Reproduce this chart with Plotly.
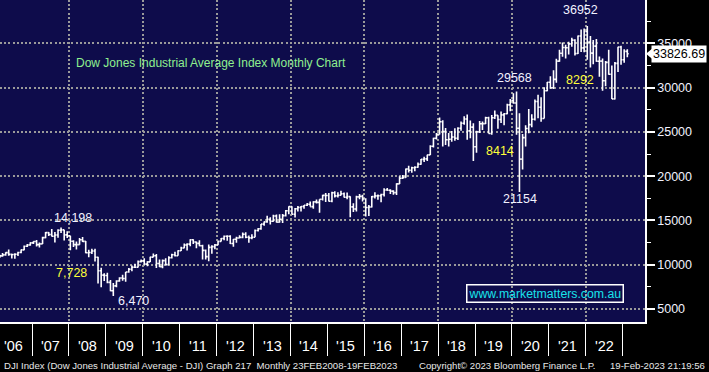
import plotly.graph_objects as go
import pandas as pd

# ---------------- data (monthly DJIA, Feb 2006 .. Feb 2023) ----------------
months = pd.date_range("2006-02-01", "2023-02-01", freq="MS") + pd.Timedelta(days=14)

opens = [
    10865, 10993, 11109, 11367, 11168, 11150, 11186, 11381, 11679, 12081, 12222,
    12463, 12622, 12269, 12354, 13063, 13628, 13409, 13212, 13358, 13896, 13930, 13372,
    13265, 12650, 12266, 12263, 12820, 12638, 11350, 11378, 11544, 10851, 9325, 8829,
    8776, 8001, 7063, 7609, 8168, 8500, 8447, 9172, 9496, 9712, 9713, 10345,
    10428, 10067, 10325, 10857, 11009, 10137, 9774, 10466, 10015, 10788, 11118, 11006,
    11578, 11892, 12226, 12320, 12811, 12570, 12414, 12143, 11614, 10913, 11955, 12046,
    12218, 12633, 12952, 13212, 13214, 12393, 12880, 13009, 13091, 13437, 13096, 13026,
    13104, 13861, 14054, 14579, 14840, 15116, 14910, 15500, 14810, 15130, 15546, 16086,
    16577, 15699, 16322, 16458, 16581, 16717, 16827, 16563, 17098, 17043, 17391, 17828,
    17823, 17165, 18133, 17776, 17841, 18011, 17620, 17690, 16528, 16285, 17664, 17720,
    17425, 16466, 16517, 17685, 17774, 17787, 17930, 18432, 18401, 18308, 18142, 19124,
    19763, 19864, 20812, 20663, 20941, 21009, 21350, 21891, 21948, 22405, 23377, 24272,
    24719, 26149, 25029, 24103, 24163, 24416, 24271, 25415, 25965, 26458, 25116, 25538,
    23327, 24999, 25916, 25929, 26593, 24815, 26600, 26864, 26403, 26917, 27046, 28051,
    28538, 28256, 25409, 21917, 24346, 25383, 25813, 26428, 28430, 27782, 26502, 29639,
    30606, 29983, 30932, 32982, 33875, 34529, 34503, 34935, 35361, 33844, 35820, 34484,
    36338, 35132, 33893, 34678, 32977, 32990, 30775, 32845, 31510, 28726, 32733, 34590,
    33147, 34086,
]
highs = [
    11137, 11334, 11420, 11710, 11250, 11300, 11450, 11720, 12160, 12340, 12530,
    12650, 12790, 12500, 13160, 13690, 13700, 14020, 13700, 14000, 14198, 13950, 13780,
    13280, 12770, 12620, 13010, 13140, 12670, 11680, 11790, 11790, 10890, 9650, 9030,
    9090, 8280, 7930, 8260, 8580, 8880, 9190, 9630, 9920, 10120, 10470, 10580,
    10730, 10400, 10900, 11260, 11210, 10600, 10600, 10720, 10950, 11250, 11450, 11630,
    12020, 12390, 12420, 12880, 12880, 12630, 12750, 12250, 11720, 12280, 12200, 12330,
    12720, 13020, 13290, 13340, 13340, 12900, 13150, 13330, 13650, 13660, 13290, 13450,
    13970, 14150, 14590, 14890, 15540, 15350, 15640, 15660, 15710, 15720, 16170, 16590,
    16590, 16400, 16630, 16630, 16740, 16980, 17150, 17160, 17350, 17400, 17890, 18100,
    18100, 18250, 18290, 18180, 18350, 18150, 18140, 17720, 16930, 17800, 17980, 17890,
    17500, 16740, 17760, 18170, 17940, 18020, 18620, 18670, 18510, 18400, 19200, 19990,
    20130, 20850, 21170, 21070, 21110, 21530, 21930, 22180, 22420, 23490, 24330, 24880,
    26620, 26310, 25450, 24860, 25090, 25400, 25520, 26170, 26770, 26950, 26280, 25980,
    25130, 26240, 26160, 26700, 26700, 26910, 27400, 26890, 27310, 27120, 28170, 28700,
    29370, 29570, 27100, 24760, 25760, 27580, 27000, 28650, 29200, 28900, 30030, 30640,
    31270, 31960, 33260, 34260, 35090, 34850, 35170, 35630, 35470, 35890, 36570, 36680,
    36952, 35820, 35370, 35490, 33510, 33270, 33000, 34280, 32500, 32880, 34600, 34710,
    34340, 34330,
]
lows = [
    10750, 10900, 11000, 11000, 10700, 10660, 10990, 11300, 11640, 12000, 12140,
    12340, 12050, 11940, 12350, 12990, 13250, 13180, 12520, 13050, 13580, 12740, 13020,
    11630, 12000, 11730, 12250, 12570, 11290, 10830, 11210, 10370, 7883, 7450, 8150,
    7910, 7000, 6470, 7450, 8090, 8190, 8090, 9100, 9250, 9670, 9680, 10240,
    10020, 9840, 10320, 10850, 9620, 9740, 9610, 9940, 9990, 10710, 10930, 11000,
    11550, 11860, 11610, 12080, 12330, 11860, 12090, 10600, 10600, 10400, 11230, 11740,
    12200, 12620, 12750, 12710, 12350, 12040, 12490, 12990, 13000, 13000, 12470, 12880,
    13100, 13740, 13940, 14400, 14750, 14550, 14860, 14760, 14780, 14720, 15440, 15700,
    15690, 15340, 16000, 16020, 16330, 16640, 16560, 16330, 16900, 15860, 17250, 17070,
    17130, 17040, 17580, 17600, 17820, 17600, 17400, 15370, 15940, 16010, 17380, 17140,
    15450, 15500, 16450, 17480, 17330, 17060, 17710, 18360, 17990, 17890, 17880, 19120,
    19680, 19830, 20410, 20380, 20550, 20960, 21280, 21600, 21710, 22400, 23240, 24140,
    24700, 23360, 23510, 23340, 23880, 23990, 24080, 25120, 25790, 24120, 24270, 21710,
    22640, 24880, 25210, 25900, 24810, 24680, 26460, 25340, 26000, 25740, 27000, 27330,
    28170, 24680, 18210, 20740, 23360, 24840, 25520, 26280, 26540, 26140, 26500, 29600,
    29860, 29850, 30550, 32930, 33470, 33270, 33740, 34600, 33610, 33790, 34010, 34000,
    33150, 32270, 32630, 32930, 31230, 29650, 30140, 31440, 28720, 28660, 31750, 32570,
    32810, 33430,
]
closes = [
    10993, 11109, 11367, 11168, 11150, 11186, 11381, 11679, 12081, 12222, 12463,
    12622, 12269, 12354, 13063, 13628, 13409, 13212, 13358, 13896, 13930, 13372, 13265,
    12650, 12266, 12263, 12820, 12638, 11350, 11378, 11544, 10851, 9325, 8829, 8776,
    8001, 7063, 7609, 8168, 8500, 8447, 9172, 9496, 9712, 9713, 10345, 10428,
    10067, 10325, 10857, 11009, 10137, 9774, 10466, 10015, 10788, 11118, 11006, 11578,
    11892, 12226, 12320, 12811, 12570, 12414, 12143, 11614, 10913, 11955, 12046, 12218,
    12633, 12952, 13212, 13214, 12393, 12880, 13009, 13091, 13437, 13096, 13026, 13104,
    13861, 14054, 14579, 14840, 15116, 14910, 15500, 14810, 15130, 15546, 16086, 16577,
    15699, 16322, 16458, 16581, 16717, 16827, 16563, 17098, 17043, 17391, 17828, 17823,
    17165, 18133, 17776, 17841, 18011, 17620, 17690, 16528, 16285, 17664, 17720, 17425,
    16466, 16517, 17685, 17774, 17787, 17930, 18432, 18401, 18308, 18142, 19124, 19763,
    19864, 20812, 20663, 20941, 21009, 21350, 21891, 21948, 22405, 23377, 24272, 24719,
    26149, 25029, 24103, 24163, 24416, 24271, 25415, 25965, 26458, 25116, 25538, 23327,
    24999, 25916, 25929, 26593, 24815, 26600, 26864, 26403, 26917, 27046, 28051, 28538,
    28256, 25409, 21917, 24346, 25383, 25813, 26428, 28430, 27782, 26502, 29639, 30606,
    29983, 30932, 32982, 33875, 34529, 34503, 34935, 35361, 33844, 35820, 34484, 36338,
    35132, 33893, 34678, 32977, 32990, 30775, 32845, 31510, 28726, 32733, 34590, 33147,
    34086, 33826.69,
]

year_labels = ["'06", "'07", "'08", "'09", "'10", "'11", "'12", "'13", "'14",
               "'15", "'16", "'17", "'18", "'19", "'20", "'21", "'22"]
label_years = list(range(2006, 2023))
grid_years = [2008, 2010, 2012, 2014, 2016, 2018, 2020, 2022]
sep_years = [2007, 2009, 2011, 2013, 2015, 2017, 2019, 2021, 2023]
y_ticks = [5000, 10000, 15000, 20000, 25000, 30000, 35000]
y_minor = [7500, 12500, 17500, 22500, 27500, 32500, 37500]

# ---------------- styling ----------------
NAVY = "#0e0c4b"
GRID = "#9a9a9a"
WHITE_TXT = "#f2f2ff"
YELLOW = "#ffff3a"
W, H = 645.0, 322.0  # plot area size in px


def px(x):
    return x / W


def py(y):
    return 1 - y / H


fig = go.Figure()
fig.add_trace(go.Ohlc(
    x=months, open=opens, high=highs, low=lows, close=closes,
    increasing=dict(line=dict(color="white", width=1.6)),
    decreasing=dict(line=dict(color="white", width=1.6)),
    tickwidth=0.5, showlegend=False, hoverinfo="skip",
))

grid_style = dict(showgrid=True, gridcolor=GRID, gridwidth=2, griddash="2px,2.2px")

fig.update_layout(
    width=709, height=372,
    margin=dict(l=0, r=64, t=0, b=50, autoexpand=False),
    paper_bgcolor="black", plot_bgcolor=NAVY,
    font=dict(family="Liberation Sans, Arial", color="white", size=12),
    xaxis=dict(
        type="date", range=["2006-02-18", "2023-08-09"],
        tickmode="array", tickvals=[f"{y}-01-01" for y in grid_years],
        showticklabels=False, ticks="outside", ticklen=32, tickwidth=1, tickcolor="white",
        minor=dict(tickmode="array", tickvals=[f"{y}-01-01" for y in sep_years],
                   ticks="outside", ticklen=32, tickwidth=1, tickcolor="white", showgrid=False),
        showline=True, linecolor="white", linewidth=1.5,
        rangeslider=dict(visible=False), zeroline=False, fixedrange=True,
        **grid_style,
    ),
    yaxis=dict(
        side="right", range=[3532, 39889],
        tickmode="array", tickvals=y_ticks, ticktext=[str(v) for v in y_ticks],
        ticks="outside", ticklen=8, tickwidth=2, tickcolor="white",
        tickfont=dict(size=12.5, color=WHITE_TXT, family="Liberation Sans, Arial"),
        minor=dict(tickmode="array", tickvals=y_minor, ticks="outside", ticklen=4,
                   tickwidth=1, tickcolor="white", showgrid=False),
        showline=True, linecolor="white", linewidth=1.5, zeroline=False, fixedrange=True,
        **grid_style,
    ),
)

ann = []
# year labels between separators
for yr, lab in zip(label_years, year_labels):
    ann.append(dict(x=f"{yr}-07-02", xref="x", y=py(346), yref="paper", text=lab,
                    showarrow=False, xanchor="center", yanchor="middle",
                    font=dict(family="Liberation Sans, Arial", size=14.5, color="white")))

# title
ann.append(dict(x=px(74), y=py(63), xref="paper", yref="paper",
                text="Dow Jones Industrial Average Index Monthly Chart",
                showarrow=False, xanchor="left", yanchor="middle",
                font=dict(size=12, color="#8ff08f")))

# value labels
value_labels = [
    ("14,198", 73, 218, WHITE_TXT), ("7,728", 71.5, 273, YELLOW), ("6,470", 133, 301, WHITE_TXT),
    ("29568", 514, 77.5, WHITE_TXT), ("8414", 500, 151, YELLOW), ("21154", 519.5, 199, WHITE_TXT),
    ("36952", 580, 10, WHITE_TXT), ("8292", 580, 80, YELLOW),
]
for t, x, y, c in value_labels:
    ann.append(dict(x=px(x), y=py(y), xref="paper", yref="paper", text=t, showarrow=False,
                    xanchor="center", yanchor="middle", font=dict(size=12.5, color=c)))

# web box
ann.append(dict(x=px(545), y=py(293.5), xref="paper", yref="paper",
                text="www.marketmatters.com.au", showarrow=False,
                xanchor="center", yanchor="middle", bordercolor="white", borderwidth=1.5,
                borderpad=1, font=dict(size=12.3, color="#18e2ea")))

# last price box
last = closes[-1]
ann.append(dict(x=px(651), y=last, xref="paper", yref="y", text=f"{last:.2f}",
                showarrow=False, xanchor="left", yanchor="middle", bgcolor="white",
                borderpad=1, font=dict(size=12.5, color="black")))

# footer
foot_font = dict(family="Liberation Sans, Arial", size=9.6, color="#e8e8e8")
ann.append(dict(x=px(2), y=py(365), xref="paper", yref="paper", showarrow=False,
                xanchor="left", yanchor="middle", font=foot_font,
                text="DJI Index (Dow Jones Industrial Average - DJI) Graph 217  Monthly 23FEB2008-19FEB2023"))
ann.append(dict(x=px(417), y=py(365), xref="paper", yref="paper", showarrow=False,
                xanchor="left", yanchor="middle", font=foot_font,
                text="Copyright\u00a9 2023 Bloomberg Finance L.P."))
ann.append(dict(x=px(707), y=py(365), xref="paper", yref="paper", showarrow=False,
                xanchor="right", yanchor="middle", font=foot_font,
                text="19-Feb-2023 21:19:56"))

fig.update_layout(annotations=ann)

# arrow pointer of last price box
dy = 5 / 44.28 * 5000
fig.add_shape(type="path", xref="paper", yref="y", layer="above",
              path=f"M {px(646)},{last} L {px(652)},{last + dy} L {px(652)},{last - dy} Z",
              fillcolor="white", line=dict(color="white", width=0))

fig.write_html("out.html", config={"displayModeBar": False},
               post_script="document.body.style.margin='0px';document.body.style.overflow='hidden';")
